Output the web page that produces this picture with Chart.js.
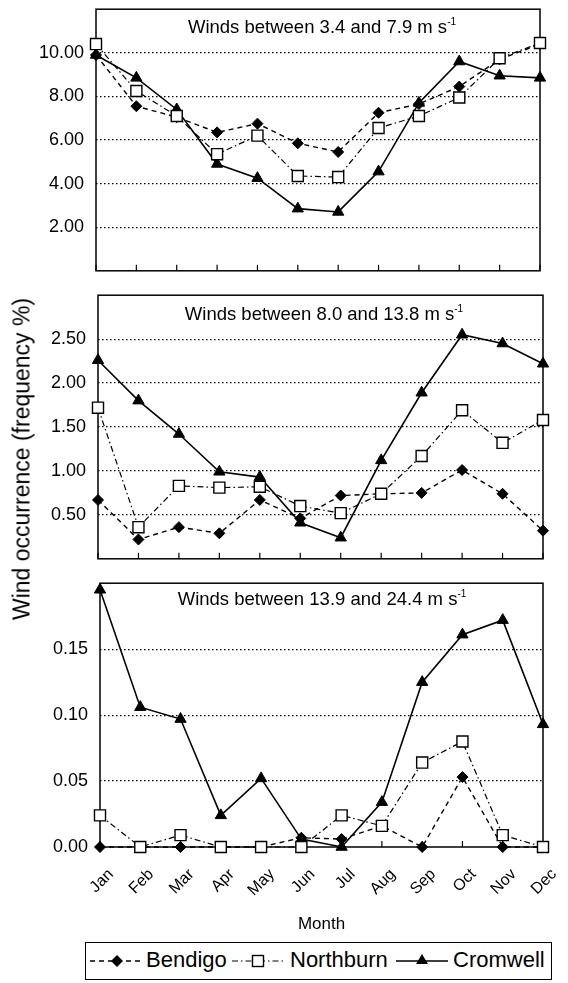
<!DOCTYPE html>
<html>
<head>
<meta charset="utf-8">
<script src="https://cdn.jsdelivr.net/npm/chart.js@4.4.0/dist/chart.umd.min.js"></script>
<style>
  html, body { margin: 0; padding: 0; background: #fff; }
  body {
    width: 568px; height: 983px; position: relative; overflow: hidden;
    font-family: 'Liberation Sans', Arial, sans-serif; color: #000;
  }
  canvas { position: absolute; left: 0; }
  .ptitle {
    position: absolute; font-size: 18.5px; white-space: nowrap;
    transform: translate(-50%, -50%); line-height: 1;
  }
  .ptitle sup { font-size: 10px; vertical-align: 8px; line-height: 0; }
  #ytitle {
    position: absolute; left: 22px; top: 459px; font-size: 23px; white-space: nowrap;
    transform: translate(-50%, -50%) rotate(-90deg);
  }
  #legend {
    position: absolute; left: 85px; top: 942px; width: 467px; height: 38px;
    border: 1px solid #000; box-sizing: border-box;
  }
  #legend svg, #legend span { position: absolute; }
  #legend span { font-size: 22px; top: 6px; line-height: 1; }
</style>
</head>
<body>

<canvas id="c1" width="568" height="280" style="top:0px"></canvas>
<canvas id="c2" width="568" height="282" style="top:286px"></canvas>
<canvas id="c3" width="568" height="363" style="top:574px"></canvas>

<div class="ptitle" style="left:322px; top:27px">Winds between 3.4 and 7.9 m s<sup>-1</sup></div>
<div class="ptitle" style="left:324px; top:314px">Winds between 8.0 and 13.8 m s<sup>-1</sup></div>
<div class="ptitle" style="left:322px; top:599px">Winds between 13.9 and 24.4 m s<sup>-1</sup></div>

<div id="ytitle">Wind occurrence (frequency %)</div>

<div id="legend">
  <svg style="left:4px; top:8px" width="54" height="20">
    <line x1="0" y1="10" x2="54" y2="10" stroke="#000" stroke-width="1.4" stroke-dasharray="5,4"/>
    <polygon points="27,4 33,10 27,16 21,10" fill="#000"/>
  </svg>
  <span style="left:60px">Bendigo</span>
  <svg style="left:146px; top:8px" width="52" height="20">
    <line x1="0" y1="10" x2="52" y2="10" stroke="#000" stroke-width="1.2" stroke-dasharray="6,3,1.5,3"/>
    <rect x="20.5" y="4.5" width="11" height="11" fill="#fff" stroke="#000" stroke-width="1.4"/>
  </svg>
  <span style="left:204px">Northburn</span>
  <svg style="left:310px; top:8px" width="52" height="20">
    <line x1="0" y1="10" x2="52" y2="10" stroke="#000" stroke-width="1.6"/>
    <polygon points="26,3 32,13 20,13" fill="#000"/>
  </svg>
  <span style="left:367px">Cromwell</span>
</div>

<script>
// Categories
const months = ['Jan', 'Feb', 'Mar', 'Apr', 'May', 'Jun', 'Jul', 'Aug', 'Sep', 'Oct', 'Nov', 'Dec'];

// Winds between 3.4 and 7.9 m/s
const bendigo1 = [9.9, 7.55, 7.05, 6.35, 6.75, 5.85, 5.45, 7.25, 7.65, 8.45, 9.7, 10.4];
const northburn1 = [10.4, 8.25, 7.1, 5.35, 6.2, 4.35, 4.3, 6.55, 7.1, 7.95, 9.75, 10.45];
const cromwell1 = [9.9, 8.85, 7.4, 4.9, 4.25, 2.85, 2.7, 4.55, 7.7, 9.6, 8.95, 8.85];

// Winds between 8.0 and 13.8 m/s
const bendigo2 = [0.67, 0.22, 0.36, 0.29, 0.67, 0.46, 0.72, 0.74, 0.75, 1.01, 0.74, 0.32];
const northburn2 = [1.72, 0.36, 0.83, 0.81, 0.82, 0.60, 0.52, 0.74, 1.17, 1.69, 1.32, 1.58];
const cromwell2 = [2.26, 1.80, 1.42, 0.99, 0.93, 0.41, 0.24, 1.12, 1.89, 2.55, 2.45, 2.22];

// Winds between 13.9 and 24.4 m/s
const bendigo3 = [0, 0, 0, 0, 0, 0.007, 0.006, 0.016, 0, 0.053, 0, 0];
const northburn3 = [0.024, 0, 0.009, 0, 0, 0, 0.024, 0.016, 0.064, 0.080, 0.009, 0];
const cromwell3 = [0.195, 0.106, 0.097, 0.024, 0.052, 0.006, 0, 0.034, 0.125, 0.161, 0.172, 0.093];

// Y axis ticks per panel
const yTicks1 = { max: 12, step: 2, labelZero: false };
const yTicks2 = { max: 3, step: 0.5, labelZero: false };
const yTicks3 = { max: 0.2, step: 0.05, labelZero: true };

Chart.defaults.font.family = "'Liberation Sans', Arial, sans-serif";
Chart.defaults.color = '#000';

// Box around the plot and small ticks pointing up from the bottom edge
const framePlugin = {
  id: 'frame',
  beforeDatasetsDraw(chart) {
    const { ctx, chartArea: a, scales } = chart;
    ctx.save();
    ctx.strokeStyle = '#000';
    ctx.lineWidth = 1.5;
    ctx.strokeRect(a.left, a.top, a.right - a.left, a.bottom - a.top);
    ctx.lineWidth = 1.2;
    months.forEach((m, i) => {
      const x = scales.x.getPixelForValue(i);
      ctx.beginPath();
      ctx.moveTo(x, a.bottom);
      ctx.lineTo(x, a.bottom - 6);
      ctx.stroke();
    });
    ctx.restore();
  }
};

function makePanel(id, bendigo, northburn, cromwell, yt, left, right, isBottom) {
  const canvas = document.getElementById(id);
  return new Chart(canvas, {
    type: 'line',
    data: {
      labels: months,
      datasets: [
        {
          label: 'Northburn',
          data: northburn,
          borderColor: '#000',
          borderWidth: 1.2,
          borderDash: [6, 3, 1.5, 3],
          pointStyle: 'rect',
          pointRadius: 7.8,
          pointBorderWidth: 1.4,
          pointBackgroundColor: '#fff',
          pointBorderColor: '#000',
          tension: 0,
          clip: false,
          order: 0
        },
        {
          label: 'Cromwell',
          data: cromwell,
          borderColor: '#000',
          borderWidth: 1.6,
          pointStyle: 'triangle',
          pointRadius: 6.5,
          pointBorderWidth: 1,
          pointBackgroundColor: '#000',
          pointBorderColor: '#000',
          tension: 0,
          clip: false,
          order: 1
        },
        {
          label: 'Bendigo',
          data: bendigo,
          borderColor: '#000',
          borderWidth: 1.4,
          borderDash: [5, 4],
          pointStyle: 'rectRot',
          pointRadius: 5.5,
          pointBorderWidth: 1,
          pointBackgroundColor: '#000',
          pointBorderColor: '#000',
          tension: 0,
          clip: false,
          order: 2
        }
      ]
    },
    options: {
      responsive: false,
      animation: false,
      devicePixelRatio: 1,
      layout: {
        padding: { left: 0, right: 568 - right, top: 7, bottom: isBottom ? 0 : 7 }
      },
      plugins: {
        legend: { display: false },
        tooltip: { enabled: false }
      },
      scales: {
        x: {
          display: isBottom,
          offset: false,
          grid: { display: false, drawTicks: false },
          border: { display: false },
          ticks: {
            font: { size: 16 },
            color: '#000',
            minRotation: 45,
            maxRotation: 45,
            autoSkip: false,
            padding: 18,
            labelOffset: 11
          },
          title: {
            display: true,
            text: 'Month',
            font: { size: 17 },
            color: '#000',
            padding: { top: 0, bottom: 2 }
          },
          afterFit: s => {
            s.height = isBottom ? 90 : 0;
            s.paddingLeft = 0;
            s.paddingRight = 0;
          }
        },
        y: {
          min: 0,
          max: yt.max,
          ticks: {
            stepSize: yt.step,
            font: { size: 18 },
            color: '#000',
            padding: 12,
            callback: v => {
              if (Math.abs(v - yt.max) < 1e-9) return '';
              if (Math.abs(v) < 1e-9 && !yt.labelZero) return '';
              return v.toFixed(2);
            }
          },
          grid: {
            drawTicks: false,
            lineWidth: 1.2,
            color: c => {
              const v = c.tick ? c.tick.value : 0;
              if (Math.abs(v) < 1e-9 || Math.abs(v - yt.max) < 1e-9) return 'rgba(0,0,0,0)';
              return '#000';
            }
          },
          border: { display: false, dash: [1.5, 2.5] },
          afterFit: s => {
            s.width = left;
            s.paddingTop = 0;
            s.paddingBottom = 0;
          }
        }
      }
    },
    plugins: [framePlugin]
  });
}

makePanel('c1', bendigo1, northburn1, cromwell1, yTicks1, 96, 540, false);
makePanel('c2', bendigo2, northburn2, cromwell2, yTicks2, 98, 543, false);
makePanel('c3', bendigo3, northburn3, cromwell3, yTicks3, 100, 543, true);
</script>
</body>
</html>
